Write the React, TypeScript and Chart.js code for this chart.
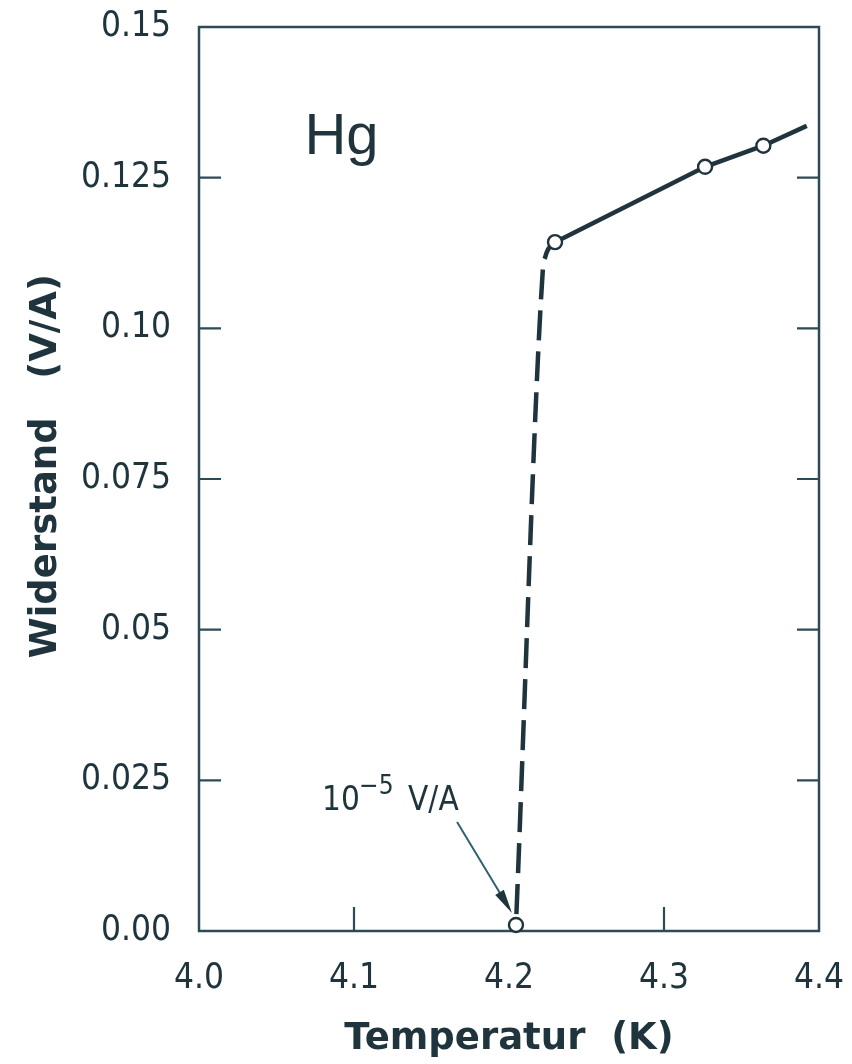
import React, { useEffect, useRef } from 'react';
import { Chart, registerables } from 'chart.js';

Chart.register(...registerables);

// ---- data ----
const solidTemps = [4.2297, 4.3265, 4.3641, 4.3921];
const solidRes = [0.1143, 0.1268, 0.1303, 0.1336];
const dashTemps = [4.2045, 4.2219, 4.2232, 4.2252, 4.2297];
const dashRes = [0.001, 0.11, 0.1117, 0.1131, 0.1143];
const pointTemps = [4.2045, 4.2297, 4.3265, 4.3641];
const pointRes = [0.001, 0.1143, 0.1268, 0.1303];

const xTickValues = [4.0, 4.1, 4.2, 4.3, 4.4];
const xTickLabels = ['4.0', '4.1', '4.2', '4.3', '4.4'];
const xInnerTicks = [4.1, 4.3];
const yTickValues = [0, 0.025, 0.05, 0.075, 0.1, 0.125, 0.15];
const yTickLabels = ['0.00', '0.025', '0.05', '0.075', '0.10', '0.125', '0.15'];
const yInnerTicks = [0.025, 0.05, 0.075, 0.1, 0.125];

const xTitle = 'Temperatur  (K)';
const yTitle = '  Widerstand   (V/A)';
const sampleLabel = 'Hg';
const noteBase = '10';
const noteExp = '\u22125';
const noteUnit = 'V/A';

// annotation anchors (data coordinates)
const hgAnchor = { x: 4.068, y: 0.129 };
const noteAnchor = { x: 4.0794, y: 0.0201 };
const arrowFrom = { x: 4.1665, y: 0.0181 };
const arrowTo = { x: 4.2019, y: 0.003 };

const INK = '#1f343d';
const AXIS = '#2c4b57';
const ARROW = '#2f6272';
const TICK_FONT = '"Liberation Sans Narrow", "DejaVu Sans Condensed", "Liberation Sans", sans-serif';
const TITLE_FONT = '"DejaVu Sans", sans-serif';

const framePlugin = {
  id: 'frameAndNotes',
  beforeDatasetsDraw(chart: any) {
    const { ctx, chartArea, scales } = chart;
    const { left, right, top, bottom } = chartArea;
    const x = scales.x;
    const y = scales.y;
    ctx.save();
    ctx.strokeStyle = AXIS;
    ctx.lineWidth = 2.5;
    ctx.strokeRect(left, top, right - left, bottom - top);
    ctx.lineWidth = 2.2;
    ctx.beginPath();
    yInnerTicks.forEach((v) => {
      const py = y.getPixelForValue(v);
      ctx.moveTo(left, py);
      ctx.lineTo(left + 22, py);
      ctx.moveTo(right, py);
      ctx.lineTo(right - 22, py);
    });
    xInnerTicks.forEach((v) => {
      const px = x.getPixelForValue(v);
      ctx.moveTo(px, bottom);
      ctx.lineTo(px, bottom - 24);
    });
    ctx.stroke();
    ctx.restore();
  },
  afterDatasetsDraw(chart: any) {
    const { ctx, scales } = chart;
    const x = scales.x;
    const y = scales.y;
    ctx.save();
    ctx.fillStyle = INK;
    ctx.textBaseline = 'alphabetic';
    ctx.textAlign = 'left';
    // Hg
    ctx.font = '58px "Liberation Sans", sans-serif';
    ctx.fillText(sampleLabel, x.getPixelForValue(hgAnchor.x), y.getPixelForValue(hgAnchor.y));
    // 10^-5 V/A
    const nx = x.getPixelForValue(noteAnchor.x);
    const ny = y.getPixelForValue(noteAnchor.y);
    ctx.font = '33px ' + TICK_FONT;
    ctx.fillText(noteBase, nx, ny);
    ctx.font = '26px ' + TICK_FONT;
    ctx.fillText(noteExp, nx + 37, ny - 16);
    ctx.font = '33px ' + TICK_FONT;
    ctx.fillText(noteUnit, nx + 86, ny);
    // arrow
    const ax = x.getPixelForValue(arrowFrom.x);
    const ay = y.getPixelForValue(arrowFrom.y);
    const bx = x.getPixelForValue(arrowTo.x);
    const by = y.getPixelForValue(arrowTo.y);
    const ang = Math.atan2(by - ay, bx - ax);
    const hl = 24;
    const hw = 5;
    ctx.strokeStyle = ARROW;
    ctx.fillStyle = INK;
    ctx.lineWidth = 2;
    ctx.beginPath();
    ctx.moveTo(ax, ay);
    ctx.lineTo(bx - Math.cos(ang) * hl * 0.8, by - Math.sin(ang) * hl * 0.8);
    ctx.stroke();
    ctx.beginPath();
    ctx.moveTo(bx, by);
    ctx.lineTo(bx - Math.cos(ang) * hl - Math.sin(ang) * hw, by - Math.sin(ang) * hl + Math.cos(ang) * hw);
    ctx.lineTo(bx - Math.cos(ang) * hl + Math.sin(ang) * hw, by - Math.sin(ang) * hl - Math.cos(ang) * hw);
    ctx.closePath();
    ctx.fill();
    ctx.restore();
  },
};

const clearScalePadding = (scale: any) => {
  scale.paddingTop = 0;
  scale.paddingBottom = 0;
  scale.paddingLeft = 0;
  scale.paddingRight = 0;
};

export default function App() {
  const canvasRef = useRef<HTMLCanvasElement | null>(null);

  useEffect(() => {
    document.body.style.margin = '0';
    document.body.style.background = '#ffffff';
    const canvas = canvasRef.current;
    if (!canvas) return;

    const solid = solidTemps.map((t, i) => ({ x: t, y: solidRes[i] }));
    const dashed = dashTemps.map((t, i) => ({ x: t, y: dashRes[i] }));
    const pts = pointTemps.map((t, i) => ({ x: t, y: pointRes[i] }));

    const chart = new Chart(canvas, {
      type: 'scatter',
      data: {
        datasets: [
          {
            label: 'Messpunkte',
            data: pts,
            showLine: false,
            pointRadius: 7,
            pointBorderWidth: 2.4,
            pointBackgroundColor: '#ffffff',
            pointBorderColor: INK,
            order: 0,
            clip: false,
          },
          {
            label: 'normalleitend',
            data: solid,
            showLine: true,
            borderColor: INK,
            borderWidth: 4.5,
            pointRadius: 0,
            order: 1,
            clip: false,
          },
          {
            label: 'Übergang',
            data: dashed,
            showLine: true,
            borderColor: INK,
            borderWidth: 4.5,
            borderDash: [30, 11],
            borderDashOffset: 30,
            cubicInterpolationMode: 'monotone',
            pointRadius: 0,
            order: 2,
            clip: false,
          },
        ] as any,
      },
      options: {
        responsive: false,
        animation: false,
        events: [],
        layout: { padding: { left: 0, right: 33, top: 27, bottom: 0 } },
        plugins: { legend: { display: false }, tooltip: { enabled: false } },
        scales: {
          x: {
            type: 'linear',
            min: 4.0,
            max: 4.4,
            afterBuildTicks: (scale: any) => {
              scale.ticks = xTickValues.map((v) => ({ value: v }));
            },
            afterFit: (scale: any) => {
              scale.height = 133;
              clearScalePadding(scale);
            },
            grid: { display: false, drawTicks: false },
            border: { display: false },
            ticks: {
              padding: 27,
              color: INK,
              font: { family: TICK_FONT, size: 35 },
              maxRotation: 0,
              callback: (_v: any, i: number) => xTickLabels[i],
            },
            title: {
              display: true,
              text: xTitle,
              color: INK,
              font: { family: TITLE_FONT, size: 37, weight: 'bold' },
              padding: { top: 0, bottom: 2 },
            },
          },
          y: {
            type: 'linear',
            min: 0,
            max: 0.15,
            afterBuildTicks: (scale: any) => {
              scale.ticks = yTickValues.map((v) => ({ value: v }));
            },
            afterFit: (scale: any) => {
              scale.width = 199;
              clearScalePadding(scale);
            },
            grid: { display: false, drawTicks: false },
            border: { display: false },
            ticks: {
              padding: 28,
              color: INK,
              font: { family: TICK_FONT, size: 35 },
              callback: (_v: any, i: number) => yTickLabels[i],
            },
            title: {
              display: true,
              text: yTitle,
              color: INK,
              font: { family: TITLE_FONT, size: 37, weight: 'bold' },
              padding: { top: 24, bottom: 0 },
            },
          },
        },
      } as any,
      plugins: [framePlugin],
    });

    return () => {
      chart.destroy();
    };
  }, []);

  return (
    <div style={{ width: 852, height: 1064, background: '#ffffff' }}>
      <canvas ref={canvasRef} width={852} height={1064} style={{ display: 'block' }} />
    </div>
  );
}
